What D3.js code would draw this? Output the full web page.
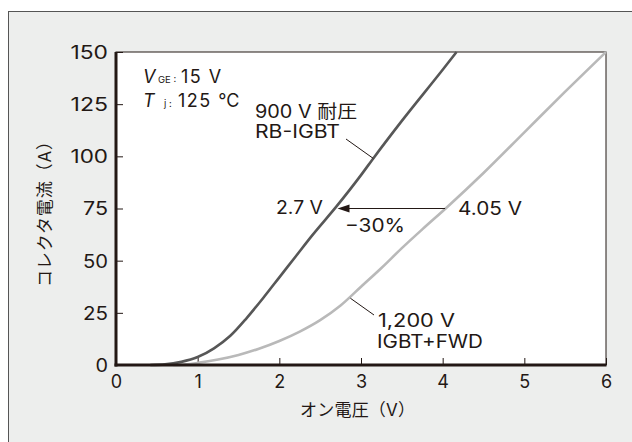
<!DOCTYPE html>
<html><head><meta charset="utf-8">
<script src="https://cdn.jsdelivr.net/npm/d3@7"></script>
<style>
html,body{margin:0;padding:0;background:#fff;}
svg text{font-family:Inter,"Noto Sans CJK JP",sans-serif;fill:#231815;}
</style></head>
<body>
<svg id="c" width="632" height="442"></svg>
<script>
// ---- data ----
const xTicks = [0,1,2,3,4,5,6];
const yTicks = [0,25,50,75,100,125,150];
const rbVolt = [0.42,0.6,0.8,1.0,1.2,1.4,1.6,1.8,2.0,2.2,2.4,2.7,3.0,3.15,3.5,4.0,4.17];
const rbCurr = [0,0.3,1.5,3.8,8,14,22.5,32,42,52,62,76,91,99,117,141.5,150];
const igVolt = [0.7,0.85,1.0,1.25,1.5,1.75,2.0,2.25,2.5,2.75,3.0,3.25,3.5,3.75,4.05,4.5,5.0,5.5,6.0];
const igCurr = [0,0.3,1.0,2.6,4.8,7.8,11.5,16,21.5,28.5,37.5,46.5,56,65,75.5,92,111.5,131,150];
const xTitle = "オン電圧（V）";
const yTitle = "コレクタ電流（A）";

const FONT = 'Inter,"Noto Sans CJK JP",sans-serif';
const ADJ = "spacingAndGlyphs";
const svg = d3.select("#c");
// panel
svg.append("rect").attr("x",8.5).attr("y",11.5).attr("width",640).attr("height",450)
  .attr("fill","#edeeed").attr("stroke","#555").attr("stroke-width",1);

const L=116, R=606, T=52, B=365;
const x = d3.scaleLinear().domain([0,6]).range([L,R]);
const y = d3.scaleLinear().domain([0,150]).range([B,T]);

svg.append("rect").attr("x",L).attr("y",T).attr("width",R-L).attr("height",B-T)
  .attr("fill","#fff").attr("stroke","#231815").attr("stroke-width",1);

// ticks (inward)
const xa = d3.axisBottom(x).tickValues(xTicks).tickSize(-7).tickPadding(10).tickFormat(d3.format("d"));
const gx = svg.append("g").attr("transform",`translate(0,${B})`).call(xa).attr("font-family",FONT);
gx.select(".domain").remove();
gx.selectAll("line").attr("stroke","#231815");
gx.selectAll("text").attr("font-size",18).attr("dy","0.71em").attr("fill","#231815");

const ya = d3.axisLeft(y).tickValues(yTicks).tickSize(-7).tickPadding(8);
const gy = svg.append("g").attr("transform",`translate(${L},0)`).call(ya).attr("font-family",FONT);
gy.select(".domain").remove();
gy.selectAll("line").attr("stroke","#231815");
gy.selectAll("text").attr("font-size",18).attr("fill","#231815").attr("dy","0.36em")
  .each(function(d){ const s=String(d); d3.select(this).attr("textLength", s.length*12.5).attr("lengthAdjust",ADJ); });

// curves
const line = d3.line().x(d=>x(d[0])).y(d=>y(d[1])).curve(d3.curveMonotoneX);
const rb = rbVolt.map((v,i)=>[v,rbCurr[i]]);
const ig = igVolt.map((v,i)=>[v,igCurr[i]]);
svg.append("path").datum(ig).attr("d",line).attr("fill","none").attr("stroke","#b9b9b9").attr("stroke-width",2.6);
svg.append("path").datum(rb).attr("d",line).attr("fill","none").attr("stroke","#575757").attr("stroke-width",2.6);

// thick axes lines
svg.append("line").attr("x1",L).attr("x2",L).attr("y1",T).attr("y2",B+1.5).attr("stroke","#231815").attr("stroke-width",3);
svg.append("line").attr("x1",L-1.5).attr("x2",R+0.5).attr("y1",B).attr("y2",B).attr("stroke","#231815").attr("stroke-width",3);

// axis titles
svg.append("text").attr("x",300).attr("y",416).attr("font-size",17)
  .attr("textLength",115).attr("lengthAdjust","spacing").text(xTitle);
svg.append("text").attr("transform","translate(51,287) rotate(-90)").attr("font-size",17)
  .attr("textLength",154).attr("lengthAdjust","spacing").text(yTitle);

// condition labels
const c1 = svg.append("text").attr("y",83).attr("font-size",18);
c1.append("tspan").attr("x",143).attr("font-style","italic").text("V");
c1.append("tspan").attr("x",158).attr("font-size",9.5).text("GE :");
c1.append("tspan").attr("x",181).style("letter-spacing","1.5px").text("15 V");
const c2 = svg.append("text").attr("y",106.5).attr("font-size",18);
c2.append("tspan").attr("x",143).attr("font-style","italic").text("T");
c2.append("tspan").attr("x",164).attr("font-size",9.5).text("j :");
c2.append("tspan").attr("x",178).style("letter-spacing","1.5px").text("125 ℃");

// annotations
const ann = (tx,ty,w,s)=>svg.append("text").attr("x",tx).attr("y",ty).attr("font-size",18)
  .attr("textLength",w).attr("lengthAdjust",ADJ).text(s);
ann(255,118,102,"900 V 耐圧");
ann(255,138,85,"RB-IGBT");
svg.append("line").attr("x1",346).attr("y1",139).attr("x2",x(3.15)).attr("y2",y(99)).attr("stroke","#231815").attr("stroke-width",1);

ann(276,214,47,"2.7 V");
ann(458,215,64,"4.05 V");
ann(345,232,60,"−30%");
// arrow
svg.append("line").attr("x1",x(4.03)).attr("x2",x(2.7)+12).attr("y1",y(75)).attr("y2",y(75)).attr("stroke","#231815").attr("stroke-width",1);
svg.append("path").attr("d",`M${x(2.7)+1},${y(75)} l12,-4 l0,8 z`).attr("fill","#231815");

ann(378,327,77,"1,200 V");
ann(377,348,106,"IGBT+FWD");
svg.append("line").attr("x1",x(2.87)).attr("y1",y(32)).attr("x2",374).attr("y2",315).attr("stroke","#231815").attr("stroke-width",1);
</script>
</body></html>
